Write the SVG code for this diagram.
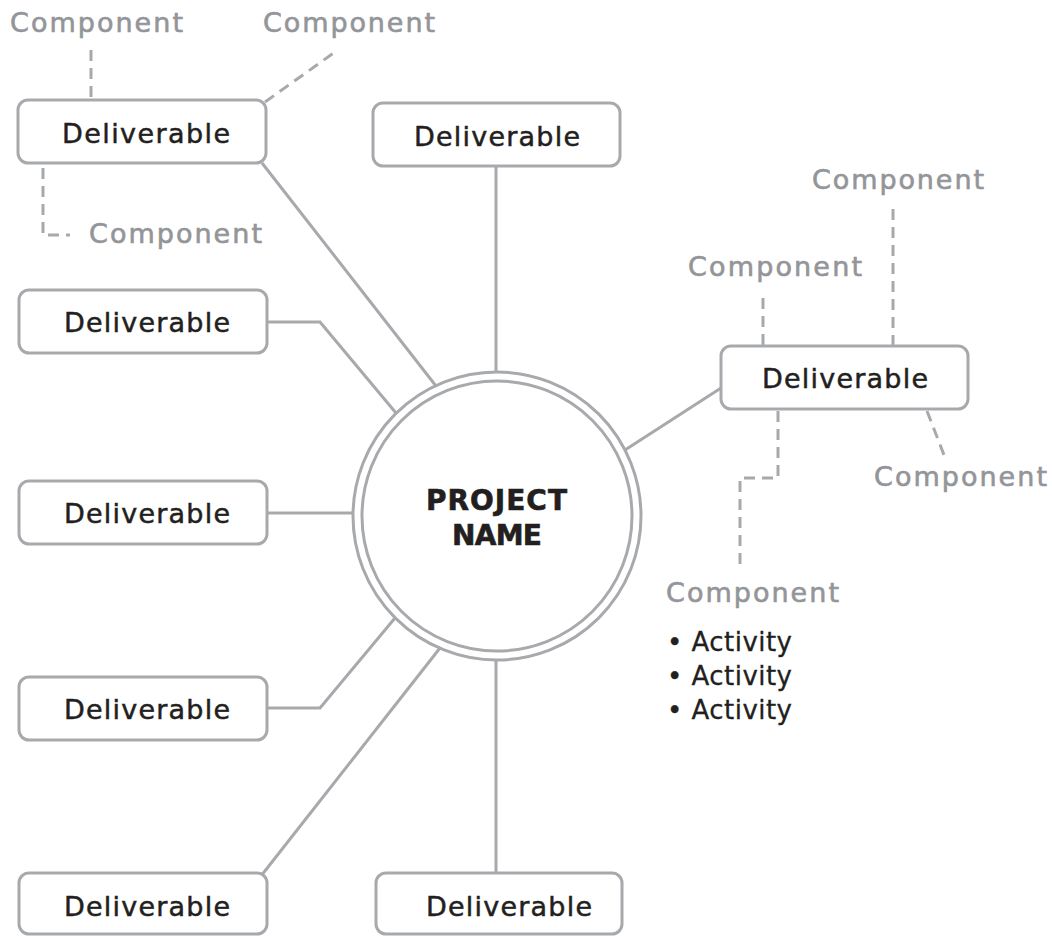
<svg xmlns="http://www.w3.org/2000/svg" width="1052" height="936" viewBox="0 0 1052 936">
<style>
.box{fill:#fff;stroke:#a7a9ac;stroke-width:3}
.ln{fill:none;stroke:#a7a9ac;stroke-width:3}
.dl{fill:none;stroke:#a7a9ac;stroke-width:3;stroke-dasharray:11 7}
.dv{font-family:"DejaVu Sans","Liberation Sans",sans-serif;font-size:27px;fill:#231f20;stroke:#231f20;stroke-width:0.5}
.cp{font-family:"DejaVu Sans","Liberation Sans",sans-serif;font-size:27px;fill:#939598;stroke:#939598;stroke-width:0.6}
.ac{font-family:"DejaVu Sans","Liberation Sans",sans-serif;font-size:26px;fill:#231f20;stroke:#231f20;stroke-width:0.3}
.pn{font-family:"DejaVu Sans","Liberation Sans",sans-serif;font-size:28px;font-weight:bold;fill:#231f20;stroke:#231f20;stroke-width:0.6}
</style>
<rect width="1052" height="936" fill="#fff"/>
<g id="connectors">
<line class="ln" x1="262" y1="163" x2="436" y2="386"/>
<line class="ln" x1="496" y1="166" x2="496" y2="372"/>
<polyline class="ln" points="267,322 320,322 396,413"/>
<line class="ln" x1="267" y1="513" x2="353" y2="513"/>
<polyline class="ln" points="267,708 320,708 395,618"/>
<line class="ln" x1="261" y1="876" x2="440" y2="648"/>
<line class="ln" x1="496" y1="873" x2="496" y2="660"/>
<line class="ln" x1="721" y1="388" x2="625" y2="450"/>
<line class="dl" x1="91" y1="50" x2="91" y2="100"/>
<line class="dl" x1="265" y1="102" x2="335" y2="52"/>
<polyline class="dl" points="43,168 43,235 70,235"/>
<line class="dl" x1="763" y1="298" x2="763" y2="346"/>
<line class="dl" x1="893" y1="209" x2="893" y2="346"/>
<line class="dl" x1="927" y1="411" x2="944" y2="455"/>
<polyline class="dl" points="778,411 778,478 740,478 740,570"/>
</g>
<g id="center">
<circle cx="497" cy="516" r="144" fill="#fff" stroke="#a7a9ac" stroke-width="3"/>
<circle cx="497" cy="516" r="135" fill="#fff" stroke="#a7a9ac" stroke-width="3"/>
<text class="pn" x="426" y="510" textLength="141" lengthAdjust="spacing">PROJECT</text>
<text class="pn" x="452" y="545" textLength="90" lengthAdjust="spacing">NAME</text>
</g>
<g id="d1"><rect class="box" x="18" y="100" width="248" height="63" rx="10"/><text class="dv" x="62" y="143" textLength="168" lengthAdjust="spacing">Deliverable</text></g>
<g id="d2"><rect class="box" x="373" y="103" width="247" height="63" rx="10"/><text class="dv" x="414" y="146" textLength="166" lengthAdjust="spacing">Deliverable</text></g>
<g id="d3"><rect class="box" x="19" y="290" width="248" height="63" rx="10"/><text class="dv" x="64" y="332" textLength="166" lengthAdjust="spacing">Deliverable</text></g>
<g id="d4"><rect class="box" x="19" y="481" width="248" height="63" rx="10"/><text class="dv" x="64" y="523" textLength="166" lengthAdjust="spacing">Deliverable</text></g>
<g id="d5"><rect class="box" x="19" y="677" width="248" height="63" rx="10"/><text class="dv" x="64" y="719" textLength="166" lengthAdjust="spacing">Deliverable</text></g>
<g id="d6"><rect class="box" x="19" y="873" width="248" height="61" rx="10"/><text class="dv" x="64" y="916" textLength="166" lengthAdjust="spacing">Deliverable</text></g>
<g id="d7"><rect class="box" x="376" y="873" width="246" height="61" rx="10"/><text class="dv" x="426" y="916" textLength="166" lengthAdjust="spacing">Deliverable</text></g>
<g id="d8"><rect class="box" x="721" y="346" width="247" height="63" rx="10"/><text class="dv" x="762" y="388" textLength="166" lengthAdjust="spacing">Deliverable</text></g>
<g id="c1"><text class="cp" x="10" y="32" textLength="173" lengthAdjust="spacing">Component</text></g>
<g id="c2"><text class="cp" x="263" y="32" textLength="172" lengthAdjust="spacing">Component</text></g>
<g id="c3"><text class="cp" x="89" y="243" textLength="173" lengthAdjust="spacing">Component</text></g>
<g id="c4"><text class="cp" x="812" y="189" textLength="172" lengthAdjust="spacing">Component</text></g>
<g id="c5"><text class="cp" x="688" y="276" textLength="174" lengthAdjust="spacing">Component</text></g>
<g id="c6"><text class="cp" x="874" y="486" textLength="173" lengthAdjust="spacing">Component</text></g>
<g id="c7"><text class="cp" x="666" y="602" textLength="173" lengthAdjust="spacing">Component</text></g>
<g id="activities">
<text class="ac" x="667" y="651" textLength="125" lengthAdjust="spacing">• Activity</text>
<text class="ac" x="667" y="685" textLength="125" lengthAdjust="spacing">• Activity</text>
<text class="ac" x="667" y="719" textLength="125" lengthAdjust="spacing">• Activity</text>
</g>
</svg>
